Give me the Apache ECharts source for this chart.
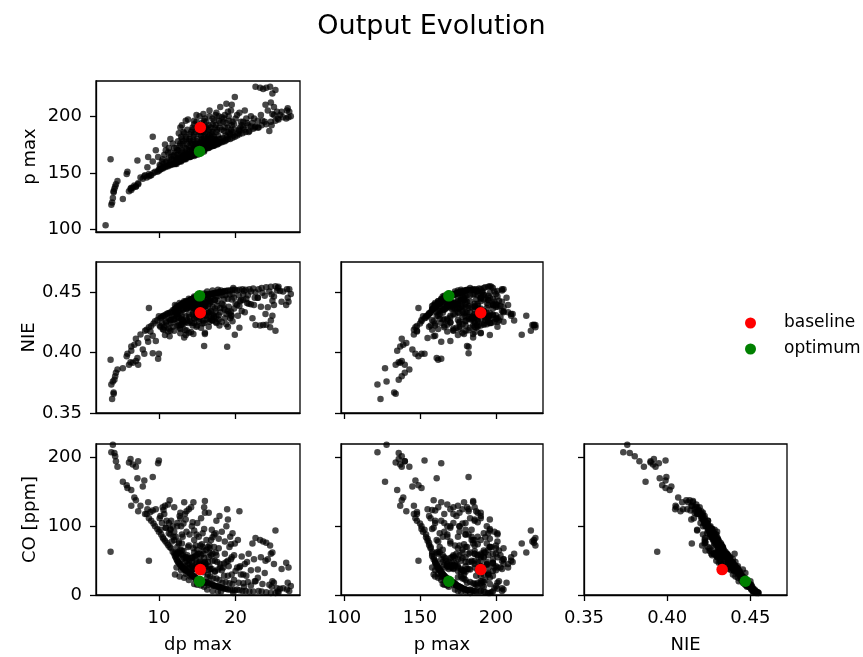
<!DOCTYPE html>
<html>
<head>
<meta charset="utf-8">
<script src="https://cdn.jsdelivr.net/npm/echarts@6/dist/echarts.min.js"></script>
<style>
html,body{margin:0;padding:0;background:#fff;}
#chart{width:863px;height:657px;}
</style>
</head>
<body>
<div id="chart"></div>
<script>
// ---------- data (one entry per sample, same order in every array) ----------
const dpMax = [
 3.05,3.7,3.8,3.9,4.0,4.1,4.1,4.2,4.3,4.4,
 4.6,5.3,5.8,5.9,6.1,6.3,6.6,6.4,6.4,7.0,
 7.3,7.2,7.3,7.6,7.9,8.1,8.2,6.8,7.0,8.4,
 8.7,9.0,9.2,9.9,10.0,8.7,9.3,9.5,9.8,8.5,
 9.2,9.6,10.1,10.0,10.2,8.9,10.3,10.5,10.6,10.8,
 11.0,11.2,11.4,11.6,11.8,12.0,10.4,10.7,11.5,10.9,
 11.3,11.5,11.7,10.2,10.6,11.0,11.5,11.9,11.3,10.8,
 11.8,12.0,11.4,12.1,12.2,12.3,12.4,12.5,12.6,12.7,
 12.8,12.9,13.0,13.1,13.2,13.3,13.4,13.5,13.6,13.8,
 14.0,12.2,12.4,12.6,12.8,13.0,13.2,13.4,13.6,13.8,
 14.0,12.1,12.7,13.3,13.9,12.3,12.5,12.9,13.0,13.2,
 13.5,13.7,14.0,12.6,13.1,13.6,12.9,13.4,13.9,12.4,
 13.3,13.5,12.8,14.9,14.1,14.2,14.3,14.4,14.5,14.6,
 14.7,14.8,14.9,15.0,15.2,15.4,15.6,15.8,16.0,14.2,
 14.4,14.6,14.8,15.0,15.2,15.4,15.6,15.8,16.0,14.3,
 14.7,15.1,15.5,15.9,14.5,15.0,15.7,14.6,15.0,15.5,
 15.9,14.2,14.5,14.8,15.1,15.6,16.0,14.4,14.9,15.3,
 15.8,14.6,15.2,15.7,14.3,15.0,15.5,16.0,14.5,16.0,
 15.9,16.2,16.4,16.6,16.8,17.0,17.2,17.4,17.6,17.8,
 18.0,16.3,16.7,17.1,17.5,17.9,16.5,16.9,17.3,17.7,
 16.4,17.0,17.6,16.8,17.4,16.2,16.6,17.2,17.8,16.9,
 17.5,17.9,16.5,17.2,16.3,17.0,17.7,18.0,18.2,18.4,
 18.6,18.8,19.0,19.3,19.6,19.9,18.3,18.7,19.2,19.6,
 18.5,19.0,19.5,18.4,19.1,18.8,19.9,19.4,18.6,19.2,
 19.8,18.9,19.0,19.6,18.2,19.3,18.1,19.7,20.2,20.5,
 20.9,21.3,21.8,22.3,20.4,21.0,21.6,20.7,21.4,20.2,
 20.5,20.8,21.2,22.0,22.9,22.5,21.7,20.3,22.2,22.6,
 23.2,23.6,24.0,24.5,25.2,24.8,22.9,23.8,24.4,24.8,
 26.8,26.6,26.9,27.2,26.7,23.0,23.4,24.0,24.6,25.2,
 25.6,22.6,24.7,25.0,25.4,23.9,24.6,25.5,26.2,8.6,
 16.5,17.0,17.5,18.0,18.5,19.0,19.5,20.0,20.5,21.0,
 18.2,19.8,17.3,16.1,15.3,14.6,13.8,15.8,16.6,12.6,
 12.3,12.9,13.5,14.1,14.7,15.3,15.9,16.5,17.1,17.7,
 12.5,13.1,13.7,14.3,14.9,15.5,16.1,16.7,17.3,13.0,
 13.9,14.8,15.6,16.4,12.2,14.0,16.8,
 10.5,11.2,12.0,12.8,13.6,14.2,11.6,12.4,13.2,14.4,
 10.9,12.0,13.0,14.6,12.7,15.4,16.2,17.0,17.8,18.6,
 19.4,15.9,17.4,18.8,16.6,20.6,21.5,22.4,23.3,24.2,
 25.0,26.0,21.1,22.0,23.5,25.8,27.0,13.4,14.0,14.6,
 15.2,15.8,16.4,13.6,14.2,14.8,15.4,16.0,16.6
];
const pMax = [
 104,162,122,124,128,133,134,136,138,140,
 143,127,149,151,134,136,137,135,137,138,
 140,161,141,146,145,147,148,139,138,146,
 147,148,182,164,153,149,150,151,151,155,
 160,170,157,152,153,148,154,154,155,155,
 156,156,157,157,158,158,160,166,180,170,
 163,168,162,156,158,160,158,165,172,175,
 176,161,159,158,159,159,160,160,160,161,
 161,161,162,162,162,163,163,163,164,164,
 164,161,163,162,165,164,166,165,167,166,
 168,159,160,162,164,172,178,182,192,186,
 180,188,184,170,175,176,168,172,178,166,
 185,196,190,201,165,165,165,166,166,166,
 167,167,168,168,169,169,170,170,171,167,
 168,169,170,171,172,173,172,174,175,170,
 172,174,176,178,175,178,180,165,166,168,
 169,178,182,186,190,194,198,190,195,200,
 186,184,188,192,176,180,183,190,179,185,
 181,172,172,173,173,174,174,175,175,176,
 177,175,177,178,179,180,178,181,180,183,
 182,186,188,190,192,195,200,196,200,184,
 186,190,188,182,173,175,177,208,177,178,
 178,179,180,180,181,182,181,183,185,186,
 187,190,192,195,200,211,217,205,190,196,
 188,182,186,195,199,184,180,183,183,184,
 185,186,187,189,188,190,192,195,198,201,
 187,192,205,200,196,190,186,185,194,226,
 225,224,225,226,223,220,190,195,187,202,
 207,198,199,200,205,190,192,193,195,196,
 197,191,192,201,204,210,212,198,199,164,
 192,198,203,194,198,204,210,198,203,195,
 188,193,190,186,184,193,197,202,205,185,
 158,160,162,164,166,168,170,172,174,176,
 163,165,167,169,171,173,175,177,179,170,
 173,176,179,181,168,180,186,
 162,168,172,176,182,186,164,170,178,188,
 159,166,180,196,174,186,190,193,196,201,
 188,196,201,194,183,190,194,198,201,205,
 208,204,188,191,196,201,204,168,170,172,
 175,177,179,171,173,175,177,180,180
];
const nie = [
 0.345,0.394,0.3736,0.3615,0.376,0.367,0.366,0.3775,0.3805,0.3833,
 0.386,0.387,0.397,0.399,0.390,0.392,0.3915,0.4015,0.405,0.393,
 0.390,0.3955,0.408,0.415,0.4025,0.399,0.418,0.4066,0.4115,0.419,
 0.421,0.422,0.3995,0.395,0.399,0.437,0.424,0.426,0.427,0.412,
 0.414,0.4095,0.4225,0.430,0.4285,0.4175,0.429,0.430,0.4305,0.431,
 0.432,0.4325,0.433,0.4335,0.435,0.4355,0.424,0.421,0.418,0.425,
 0.428,0.4265,0.4305,0.4215,0.419,0.4225,0.427,0.4275,0.420,0.4145,
 0.4215,0.4305,0.4135,0.436,0.4365,0.437,0.4375,0.438,0.438,0.4385,
 0.439,0.4395,0.440,0.4405,0.441,0.4405,0.441,0.4415,0.442,0.4425,
 0.443,0.4335,0.432,0.4345,0.433,0.4365,0.4355,0.4375,0.4365,0.439,
 0.438,0.4395,0.441,0.4425,0.4445,0.432,0.4295,0.428,0.423,0.4255,
 0.430,0.427,0.4295,0.429,0.427,0.4255,0.423,0.4185,0.4165,0.4225,
 0.4125,0.4145,0.416,0.4215,0.4435,0.444,0.444,0.4445,0.445,0.4445,
 0.4455,0.446,0.446,0.4465,0.4465,0.447,0.447,0.4475,0.448,0.441,
 0.4405,0.4415,0.440,0.441,0.4405,0.4395,0.4415,0.440,0.4405,0.4375,
 0.437,0.436,0.4365,0.4375,0.4335,0.434,0.4335,0.4465,0.447,0.4475,
 0.449,0.4385,0.437,0.4355,0.434,0.4325,0.431,0.4315,0.4295,0.428,
 0.432,0.428,0.4255,0.424,0.4245,0.4225,0.4205,0.4165,0.4155,0.4155,
 0.4055,0.4475,0.448,0.448,0.4485,0.449,0.449,0.4495,0.4495,0.450,
 0.450,0.4455,0.4455,0.4465,0.4465,0.447,0.4425,0.442,0.4435,0.4425,
 0.4385,0.438,0.4385,0.4345,0.434,0.4305,0.428,0.4305,0.431,0.427,
 0.4245,0.4225,0.4215,0.4295,0.4505,0.4515,0.452,0.4335,0.450,0.4505,
 0.451,0.451,0.4515,0.4515,0.452,0.452,0.4475,0.4475,0.448,0.4485,
 0.444,0.4445,0.444,0.4395,0.438,0.432,0.4148,0.434,0.4355,0.4325,
 0.4365,0.4048,0.4215,0.426,0.4255,0.4285,0.4515,0.4535,0.4515,0.452,
 0.4525,0.452,0.4525,0.453,0.4475,0.448,0.4475,0.4435,0.4445,0.4395,
 0.4205,0.4345,0.4335,0.440,0.4455,0.4455,0.4405,0.4305,0.4285,0.4228,
 0.4225,0.4228,0.423,0.421,0.418,0.4305,0.4455,0.447,0.4505,0.443,
 0.4455,0.4395,0.442,0.4485,0.4525,0.4525,0.4535,0.454,0.4545,0.455,
 0.4545,0.450,0.448,0.4465,0.4515,0.432,0.4265,0.4535,0.4505,0.409,
 0.4335,0.4315,0.4295,0.437,0.4365,0.4345,0.4305,0.4405,0.4385,0.4435,
 0.4405,0.4455,0.4365,0.4385,0.4375,0.429,0.4245,0.4265,0.4255,0.4225,
 0.4385,0.440,0.4425,0.444,0.4455,0.4465,0.4475,0.4485,0.449,0.4495,
 0.4345,0.4355,0.437,0.4385,0.439,0.4405,0.4415,0.4425,0.4435,0.4305,
 0.4315,0.4325,0.4325,0.433,0.428,0.426,0.429,
 0.4195,0.4175,0.418,0.4195,0.4185,0.417,0.4245,0.425,0.4235,0.4225,
 0.426,0.4275,0.4265,0.4245,0.4205,0.4295,0.4275,0.4265,0.4275,0.4285,
 0.4305,0.4245,0.4255,0.4235,0.4335,0.4425,0.441,0.4395,0.438,0.4375,
 0.4395,0.442,0.451,0.4505,0.4495,0.451,0.4525,0.4395,0.4405,0.4415,
 0.4425,0.4435,0.4445,0.436,0.4365,0.437,0.4375,0.438,0.4405
];
const co = [
 240,63,208,228,219,226,230,207,202,195,
 187,165,160,156,193,198,190,153,130,187,
 195,170,122,130,158,167,118,142,138,118,
 112,108,172,192,196,50,104,100,96,125,
 123,125,112,92,95,121,88,84,82,79,
 76,73,70,68,63,60,105,118,95,98,
 90,88,78,115,124,108,96,85,105,130,
 100,80,138,57,55,52,50,48,47,45,
 44,42,41,40,38,39,37,36,35,33,
 32,62,70,60,66,52,55,48,50,44,
 45,30,27,25,22,58,62,60,65,64,
 55,58,50,78,85,92,100,118,125,105,
 135,110,112,88,31,30,29,28,27,28,
 26,25,24,23,22,21,20,19,18,40,
 42,38,44,40,43,46,39,44,42,54,
 56,60,58,54,68,66,70,16,15,14,
 12,36,38,40,42,44,47,55,58,60,
 60,80,85,90,100,105,112,120,135,137,
 128,19,18,17,16,15,14,13,13,12,
 11,26,27,24,24,22,36,38,34,37,
 48,50,48,58,62,66,72,70,68,95,
 108,115,120,88,8,6,5,40,11,10,
 9,9,8,8,7,7,18,19,17,16,
 28,28,30,40,42,48,75,52,60,70,
 58,125,110,90,92,85,5,3,8,7,
 6,6,5,5,18,17,19,30,28,40,
 122,56,45,36,25,20,60,80,75,83,
 80,78,76,72,94,62,37,32,15,20,
 18,47,40,13,8,6,5,4,3,3,
 4,20,12,18,10,50,60,5,10,135,
 55,60,58,45,46,50,55,35,40,30,
 36,22,50,45,48,62,70,65,68,75,
 40,36,31,27,24,21,18,15,14,12,
 62,58,53,48,47,43,40,38,35,75,
 72,72,74,70,85,88,80,
 128,132,128,120,122,128,108,100,104,106,
 98,92,88,94,115,72,80,84,82,78,
 74,96,90,100,62,42,48,52,55,52,
 45,38,12,14,16,9,6,42,40,38,
 35,33,30,55,54,52,50,48,42
];
// reference designs: [dp max, p max, NIE, CO]
const baselineVals = [15.4, 190, 0.433, 37];
const optimumVals  = [15.3, 169, 0.447, 20];

// axis tick values
const dpTicks  = [10, 20];
const pTicks   = [100, 150, 200];
const nieTicks = [0.35, 0.40, 0.45];
const coTicks  = [0, 100, 200];

if (!(dpMax.length === pMax.length && pMax.length === nie.length && nie.length === co.length)) {
  console.error('length mismatch', dpMax.length, pMax.length, nie.length, co.length);
}

// ---------- chart ----------
const FONT = 'DejaVu Sans';
const vars = [dpMax, pMax, nie, co];
const ranges = {
  dp:  [1.8, 28.4],
  p:   [98, 231],
  nieY:[0.35, 0.475],
  nieX:[0.35, 0.472],
  co:  [0, 220]
};

const grids = [
  {left: 96,  top: 81,  width: 204, height: 151},
  {left: 96,  top: 262, width: 204, height: 151},
  {left: 341, top: 262, width: 202, height: 151},
  {left: 96,  top: 444, width: 204, height: 151},
  {left: 341, top: 444, width: 202, height: 151},
  {left: 584, top: 444, width: 203, height: 151}
].map(g => Object.assign({show: true, borderColor: '#000', borderWidth: 1.3,
                          containLabel: false, outerBoundsMode: 'none'}, g));

// panel: [x variable index, y variable index]
const panels = [[0,1],[0,2],[1,2],[0,3],[1,3],[2,3]];

function axis(type, gi, range, ticks, showLabel, fmt, name, nameGap) {
  const a = {
    type: 'value', gridIndex: gi, min: range[0], max: range[1],
    axisLine: {show: true, onZero: false, lineStyle: {color: '#000', width: 1.3}},
    axisTick: {show: true, inside: false, length: 6, customValues: ticks, lineStyle: {color: '#000', width: 1.3}},
    axisLabel: {show: showLabel, customValues: ticks, color: '#000', fontSize: 18, fontFamily: FONT,
                margin: type === 'x' ? 14 : 14, formatter: fmt},
    splitLine: {show: false}
  };
  if (name) {
    a.name = name; a.nameLocation = 'middle'; a.nameGap = nameGap;
    a.nameTextStyle = {color: '#000', fontSize: 18, fontFamily: FONT};
  }
  return a;
}
const intFmt = v => String(Math.round(v));
const nieFmt = v => v.toFixed(2);

const xAxes = [
  axis('x', 0, ranges.dp, dpTicks, false, intFmt),
  axis('x', 1, ranges.dp, dpTicks, false, intFmt),
  axis('x', 2, ranges.p, pTicks, false, intFmt),
  axis('x', 3, ranges.dp, dpTicks, true, intFmt, 'dp max', 41),
  axis('x', 4, ranges.p, pTicks, true, intFmt, 'p max', 41),
  axis('x', 5, ranges.nieX, nieTicks, true, nieFmt, 'NIE', 41)
];
const yAxes = [
  axis('y', 0, ranges.p, pTicks, true, intFmt, 'p max', 57),
  axis('y', 1, ranges.nieY, nieTicks, true, nieFmt, 'NIE', 57),
  axis('y', 2, ranges.nieY, nieTicks, false, nieFmt),
  axis('y', 3, ranges.co, coTicks, true, intFmt, 'CO [ppm]', 57),
  axis('y', 4, ranges.co, coTicks, false, intFmt),
  axis('y', 5, ranges.co, coTicks, false, intFmt)
];

const series = [];
panels.forEach((pn, i) => {
  const xs = vars[pn[0]], ys = vars[pn[1]];
  series.push({
    type: 'scatter', name: 'samples', xAxisIndex: i, yAxisIndex: i, clip: true,
    symbol: 'circle', symbolSize: 6.5, silent: true, z: 2,
    itemStyle: {color: '#000', opacity: 0.72},
    data: xs.map((v, k) => [v, ys[k]])
  });
});
panels.forEach((pn, i) => {
  series.push({
    type: 'scatter', name: 'baseline', xAxisIndex: i, yAxisIndex: i, clip: true,
    symbol: 'circle', symbolSize: 11.5, z: 3, itemStyle: {color: '#ff0000', opacity: 1},
    data: [[baselineVals[pn[0]], baselineVals[pn[1]]]]
  });
  series.push({
    type: 'scatter', name: 'optimum', xAxisIndex: i, yAxisIndex: i, clip: true,
    symbol: 'circle', symbolSize: 11.5, z: 3, itemStyle: {color: '#008000', opacity: 1},
    data: [[optimumVals[pn[0]], optimumVals[pn[1]]]]
  });
});

const chart = echarts.init(document.getElementById('chart'), null, {renderer: 'canvas', width: 863, height: 657});
chart.setOption({
  animation: false,
  backgroundColor: '#fff',
  textStyle: {fontFamily: FONT},
  title: {text: 'Output Evolution', left: 'center', top: 13, padding: 0,
          textStyle: {fontFamily: FONT, fontSize: 27, fontWeight: 'normal', color: '#000'}},
  legend: {
    data: ['baseline', 'optimum'], orient: 'vertical', left: 740, top: 309,
    icon: 'circle', itemWidth: 11, itemHeight: 11, itemGap: 8,
    itemStyle: {opacity: 1},
    textStyle: {fontFamily: FONT, fontSize: 17, color: '#000', lineHeight: 18, padding: [0, 0, 0, 23]},
    selectedMode: false
  },
  grid: grids,
  xAxis: xAxes,
  yAxis: yAxes,
  series: series
});
</script>
</body>
</html>
